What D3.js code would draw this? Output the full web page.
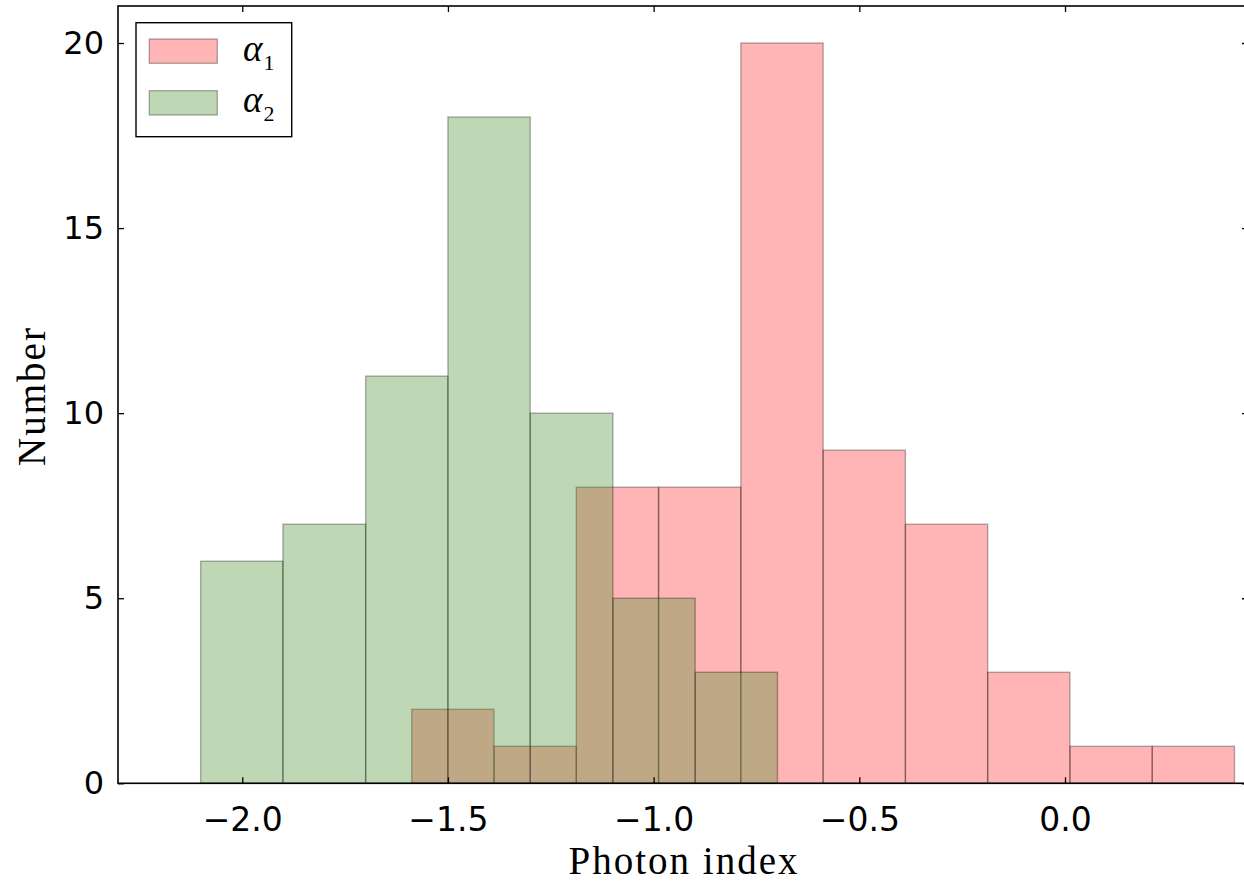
<!DOCTYPE html>
<html>
<head>
<meta charset="utf-8">
<script src="https://cdn.jsdelivr.net/npm/d3@7"></script>
<style>
  html, body { margin: 0; padding: 0; background: #fff; }
  svg { display: block; }
</style>
</head>
<body>
<svg id="chart" width="1244" height="885"></svg>
<script>
// Histogram bin edges and counts for the two photon indices
const alpha1Edges = [-1.588, -1.388, -1.188, -0.988, -0.788, -0.588, -0.388, -0.188, 0.012, 0.212, 0.412];
const alpha1Counts = [2, 1, 8, 8, 20, 9, 7, 3, 1, 1];
const alpha2Edges = [-2.101, -1.901, -1.700, -1.500, -1.300, -1.099, -0.899, -0.699];
const alpha2Counts = [6, 7, 11, 18, 10, 5, 3];

const xTicks = [-2.0, -1.5, -1.0, -0.5, 0.0];
const yTicks = [0, 5, 10, 15, 20];
const seriesNames = ["1", "2"];

const svg = d3.select("#chart");
const plotLeft = 118, plotRight = 1248, plotTop = 6, plotBottom = 783.3;

const x = d3.scaleLinear().domain([-2.302, 0.4448]).range([plotLeft, plotRight]);
const y = d3.scaleLinear().domain([0, 21]).range([plotBottom, plotTop]);

function bins(edges, counts) {
  return counts.map((c, i) => ({ x0: edges[i], x1: edges[i + 1], n: c }));
}

const series = [
  { data: bins(alpha1Edges, alpha1Counts), color: "rgb(255,0,0)", alpha: 0.29, edgeAlpha: 0.3 },
  { data: bins(alpha2Edges, alpha2Counts), color: "rgb(69,144,43)", alpha: 0.35, edgeAlpha: 0.3 }
];

const plot = svg.append("g");
series.forEach(s => {
  plot.append("g").selectAll("rect").data(s.data).join("rect")
    .attr("x", d => x(d.x0))
    .attr("width", d => x(d.x1) - x(d.x0))
    .attr("y", d => y(d.n))
    .attr("height", d => y(0) - y(d.n))
    .attr("fill", s.color)
    .attr("fill-opacity", s.alpha)
    .attr("stroke", "#000")
    .attr("stroke-opacity", s.edgeAlpha)
    .attr("stroke-width", 1.4);
});

// Axes with inward ticks on all four sides
const tickFont = "'DejaVu Sans', sans-serif";
const fmt = d3.format(".1f");

const gx = svg.append("g").attr("transform", `translate(0,${plotBottom})`)
  .call(d3.axisBottom(x).tickValues(xTicks).tickFormat(fmt).tickSize(-6).tickPadding(24));
const gxTop = svg.append("g").attr("transform", `translate(0,${plotTop})`)
  .call(d3.axisTop(x).tickValues(xTicks).tickFormat("").tickSize(-6));
const gy = svg.append("g").attr("transform", `translate(${plotLeft},0)`)
  .call(d3.axisLeft(y).tickValues(yTicks).tickFormat(d3.format("d")).tickSize(-6).tickPadding(14));
const gyRight = svg.append("g").attr("transform", `translate(${plotRight},0)`)
  .call(d3.axisRight(y).tickValues(yTicks).tickFormat("").tickSize(-6));

[gx, gxTop, gy, gyRight].forEach(g => {
  g.select(".domain").remove();
  g.selectAll(".tick line").attr("stroke", "#000").attr("stroke-width", 1.3);
  g.selectAll(".tick text").attr("font-family", tickFont).attr("font-size", 33).attr("fill", "#000");
});
gy.selectAll(".tick text").attr("font-size", 32);

// Axes frame
svg.append("rect")
  .attr("x", plotLeft).attr("y", plotTop)
  .attr("width", plotRight - plotLeft).attr("height", plotBottom - plotTop)
  .attr("fill", "none").attr("stroke", "#000").attr("stroke-width", 1.6);

// Axis titles
const labelFont = "'Liberation Serif', 'DejaVu Serif', serif";
svg.append("text")
  .attr("x", 684).attr("y", 874)
  .attr("text-anchor", "middle")
  .attr("font-family", labelFont).attr("font-size", 39)
  .attr("letter-spacing", 2)
  .text("Photon index");
svg.append("text")
  .attr("transform", "translate(45,396) rotate(-90)")
  .attr("text-anchor", "middle")
  .attr("font-family", labelFont).attr("font-size", 39)
  .attr("letter-spacing", 2)
  .text("Number");

// Legend
const legend = svg.append("g");
legend.append("rect")
  .attr("x", 136).attr("y", 22.7).attr("width", 155.7).attr("height", 114)
  .attr("fill", "#fff").attr("stroke", "#000").attr("stroke-width", 1.4);
series.forEach((s, i) => {
  const yy = 39 + i * 51.7;
  legend.append("rect")
    .attr("x", 149.3).attr("y", yy).attr("width", 68).attr("height", 24.3)
    .attr("fill", s.color).attr("fill-opacity", s.alpha)
    .attr("stroke", "#000").attr("stroke-opacity", s.edgeAlpha).attr("stroke-width", 1.4);
  const t = legend.append("text")
    .attr("x", 243).attr("y", yy + 21.5)
    .attr("font-family", labelFont).attr("font-size", 37);
  t.append("tspan").attr("font-style", "italic").text("α");
  t.append("tspan").attr("font-size", 22).attr("dy", 9).attr("dx", 1).text(seriesNames[i]);
});
</script>
</body>
</html>
